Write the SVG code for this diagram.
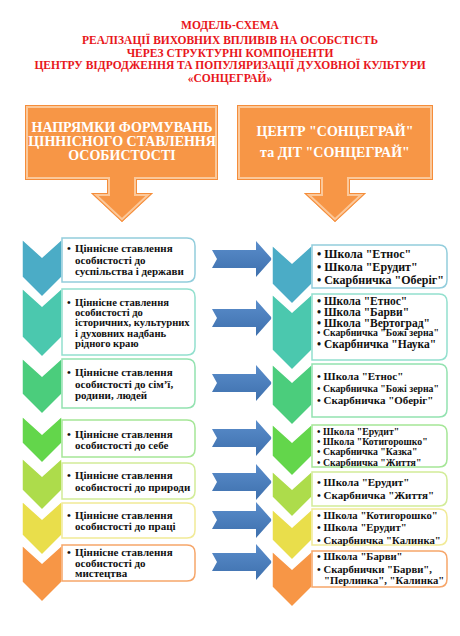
<svg xmlns="http://www.w3.org/2000/svg" width="460" height="636" viewBox="0 0 460 636">
<style>
.title{font-family:"Liberation Serif","Times New Roman",serif;font-weight:bold;font-size:11.5px;fill:#E8161B;text-anchor:middle}
.hdr{font-family:"Liberation Serif","Times New Roman",serif;font-weight:bold;font-size:14px;fill:#ffffff;text-anchor:middle}
.lt{font-family:"Liberation Serif","Times New Roman",serif;font-weight:bold;font-size:11px;fill:#111}
.lt2{font-family:"Liberation Serif","Times New Roman",serif;font-weight:bold;font-size:10.6px;fill:#111}
.rt{font-family:"Liberation Serif","Times New Roman",serif;font-weight:bold;font-size:12px;fill:#111}
.rm{font-family:"Liberation Serif","Times New Roman",serif;font-weight:bold;font-size:11.5px;fill:#111}
.rn{font-family:"Liberation Serif","Times New Roman",serif;font-weight:bold;font-size:11px;fill:#111}
.rq{font-family:"Liberation Serif","Times New Roman",serif;font-weight:bold;font-size:10.7px;fill:#111}
.rs{font-family:"Liberation Serif","Times New Roman",serif;font-weight:bold;font-size:9.8px;fill:#111}
.box{fill:#ffffff;stroke-width:1.5}
.chev{stroke:#ffffff;stroke-width:1.5}
.arrow{fill:url(#blue)}
</style>
<defs>
<linearGradient id="blue" x1="0" y1="0" x2="0" y2="1">
<stop offset="0" stop-color="#5A8DCB"/>
<stop offset="1" stop-color="#3E70AD"/>
</linearGradient>
<path id="hdrL" d="M25,105 H218 V180 H137 V193 H153 L122,222 L91,193 H107 V180 H25 Z"/>
<path id="hdrR" d="M237,105 H433 V180 H350 V193 H366 L335,222 L304,193 H320 V180 H237 Z"/>
<clipPath id="cL"><use href="#hdrL"/></clipPath>
<clipPath id="cR"><use href="#hdrR"/></clipPath>
</defs>

<g id="title">
<text class="title" x="230" y="29">МОДЕЛЬ-СХЕМА</text>
<text class="title" x="230" y="44">РЕАЛІЗАЦІЇ ВИХОВНИХ ВПЛИВІВ НА ОСОБСТІСТЬ</text>
<text class="title" x="230" y="56.5">ЧЕРЕЗ СТРУКТУРНІ КОМПОНЕНТИ</text>
<text class="title" x="230" y="69">ЦЕНТРУ ВІДРОДЖЕННЯ ТА ПОПУЛЯРИЗАЦІЇ ДУХОВНОЇ КУЛЬТУРИ</text>
<text class="title" x="230" y="81.5">«СОНЦЕГРАЙ»</text>
</g>

<g id="header-left">
<use href="#hdrL" fill="#F79646"/>
<use href="#hdrL" fill="none" stroke="#FBC89A" stroke-width="6" clip-path="url(#cL)"/>
<use href="#hdrL" fill="none" stroke="#F58D3A" stroke-width="2" clip-path="url(#cL)"/>
<text class="hdr" x="122" y="132">НАПРЯМКИ ФОРМУВАНЬ</text>
<text class="hdr" x="122" y="146">ЦІННІСНОГО СТАВЛЕННЯ</text>
<text class="hdr" x="122" y="160">ОСОБИСТОСТІ</text>
</g>

<g id="header-right">
<use href="#hdrR" fill="#F79646"/>
<use href="#hdrR" fill="none" stroke="#FBC89A" stroke-width="6" clip-path="url(#cR)"/>
<use href="#hdrR" fill="none" stroke="#F58D3A" stroke-width="2" clip-path="url(#cR)"/>
<text class="hdr" x="335" y="136">ЦЕНТР "СОНЦЕГРАЙ"</text>
<text class="hdr" x="335" y="157">та ДІТ "СОНЦЕГРАЙ"</text>
</g>

<g id="left-chevrons">
<path class="chev" fill="#4BACC6" d="M22,239 L42,257 L62,239 V277 L42,297 L22,277 Z"/>
<path class="chev" fill="#4BC8AE" d="M22,288 L42,306 L62,288 V337 L42,357 L22,337 Z"/>
<path class="chev" fill="#4BCD7C" d="M22,358 L42,376 L62,358 V394 L42,414 L22,394 Z"/>
<path class="chev" fill="#63D64B" d="M22,416 L42,434 L62,416 V443 L42,463 L22,443 Z"/>
<path class="chev" fill="#ADDC4B" d="M22,458 L42,476 L62,458 V490 L42,510 L22,490 Z"/>
<path class="chev" fill="#E9DE4B" d="M22,501 L42,519 L62,501 V535 L42,555 L22,535 Z"/>
<path class="chev" fill="#F79646" d="M22,545 L42,563 L62,545 V582 L42,602 L22,582 Z"/>
</g>

<g id="left-items">
<g id="l1">
<path class="box" stroke="#92CDDC" d="M62,238 H187 Q195,238 195,246 V274 Q195,282 187,282 H62 Z"/>
<text class="lt" x="67" y="252">•</text>
<text class="lt" x="75" y="252">Ціннісне ставлення</text>
<text class="lt" x="75" y="264">особистості до</text>
<text class="lt" x="75" y="275">суспільства і держави</text>
</g>
<g id="l2">
<path class="box" stroke="#93E0CE" d="M62,289 H187 Q195,289 195,297 V347 Q195,355 187,355 H62 Z"/>
<text class="lt2" x="67" y="306">•</text>
<text class="lt2" x="75" y="306">Ціннісне ставлення</text>
<text class="lt2" x="75" y="315.5">особистості до</text>
<text class="lt2" x="75" y="326">історичних, культурних</text>
<text class="lt2" x="75" y="336.5">і духовних надбань</text>
<text class="lt2" x="75" y="347">рідного краю</text>
</g>
<g id="l3">
<path class="box" stroke="#93E2B0" d="M62,359 H187 Q195,359 195,367 V400 Q195,408 187,408 H62 Z"/>
<text class="lt" x="67" y="375.5">•</text>
<text class="lt" x="75" y="375.5">Ціннісне ставлення</text>
<text class="lt" x="75" y="388">особистості до сім’ї,</text>
<text class="lt" x="75" y="399">родини, людей</text>
</g>
<g id="l4">
<path class="box" stroke="#A5E697" d="M62,420 H187 Q195,420 195,428 V449 Q195,457 187,457 H62 Z"/>
<text class="lt" x="67" y="438">•</text>
<text class="lt" x="75" y="438">Ціннісне ставлення</text>
<text class="lt" x="75" y="448.5">особистості до себе</text>
</g>
<g id="l5">
<path class="box" stroke="#D2EC98" d="M62,463 H187 Q195,463 195,471 V491 Q195,499 187,499 H62 Z"/>
<text class="lt" x="67" y="479">•</text>
<text class="lt" x="75" y="479">Ціннісне ставлення</text>
<text class="lt" x="75" y="490.5">особистості до природи</text>
</g>
<g id="l6">
<path class="box" stroke="#F1EA97" d="M62,503 H187 Q195,503 195,511 V530 Q195,538 187,538 H62 Z"/>
<text class="lt" x="67" y="519">•</text>
<text class="lt" x="75" y="519">Ціннісне ставлення</text>
<text class="lt" x="75" y="530">особистості до праці</text>
</g>
<g id="l7">
<path class="box" stroke="#F6A66A" d="M62,545 H187 Q195,545 195,553 V573 Q195,581 187,581 H62 Z"/>
<text class="lt" x="67" y="555.5">•</text>
<text class="lt" x="75" y="555.5">Ціннісне ставлення</text>
<text class="lt" x="75" y="566.5">особистості до</text>
<text class="lt" x="75" y="577">мистецтва</text>
</g>
</g>

<g id="connectors">
<path class="arrow" d="M212,250 H256 V241 L272,259 L256,277 V268 H212 L217,259 Z"/>
<path class="arrow" d="M212,309 H256 V300 L272,318 L256,336 V327 H212 L217,318 Z"/>
<path class="arrow" d="M212,374 H256 V365 L272,383 L256,401 V392 H212 L217,383 Z"/>
<path class="arrow" d="M212,429 H256 V420 L272,438 L256,456 V447 H212 L217,438 Z"/>
<path class="arrow" d="M212,473 H256 V464 L272,482 L256,500 V491 H212 L217,482 Z"/>
<path class="arrow" d="M212,511 H256 V502 L272,520 L256,538 V529 H212 L217,520 Z"/>
<path class="arrow" d="M212,553 H256 V544 L272,562 L256,580 V571 H212 L217,562 Z"/>
</g>

<g id="right-chevrons">
<path class="chev" fill="#4BACC6" d="M272,245 L292,263 L312,245 V284 L292,304 L272,284 Z"/>
<path class="chev" fill="#4BC8AE" d="M272,294 L292,312 L312,294 V350 L292,370 L272,350 Z"/>
<path class="chev" fill="#4BCD7C" d="M272,364 L292,382 L312,364 V405 L292,425 L272,405 Z"/>
<path class="chev" fill="#63D64B" d="M272,424 L292,442 L312,424 V456 L292,476 L272,456 Z"/>
<path class="chev" fill="#ADDC4B" d="M272,471 L292,489 L312,471 V497 L292,517 L272,497 Z"/>
<path class="chev" fill="#E9DE4B" d="M272,509 L292,527 L312,509 V540 L292,560 L272,540 Z"/>
<path class="chev" fill="#F79646" d="M272,551 L292,569 L312,551 V587 L292,607 L272,587 Z"/>
</g>

<g id="right-items">
<g id="r1">
<path class="box" stroke="#92CDDC" d="M312,245 H439 Q447,245 447,253 V280 Q447,288 439,288 H312 Z"/>
<text class="rt" x="317" y="258">• Школа "Етнос"</text>
<text class="rt" x="317" y="271">• Школа "Ерудит"</text>
<text class="rt" x="317" y="284">• Скарбничка "Оберіг"</text>
</g>
<g id="r2">
<path class="box" stroke="#93E0CE" d="M312,294 H439 Q447,294 447,302 V352 Q447,360 439,360 H312 Z"/>
<text class="rm" x="317" y="305">• Школа "Етнос"</text>
<text class="rm" x="317" y="315.5">• Школа "Барви"</text>
<text class="rm" x="317" y="326.5">• Школа "Вертоград"</text>
<text class="rs" x="317" y="336">• Скарбничка "Божі зерна"</text>
<text class="rm" x="317" y="348">• Скарбничка "Наука"</text>
</g>
<g id="r3">
<path class="box" stroke="#93E2B0" d="M312,364 H439 Q447,364 447,372 V409 Q447,417 439,417 H312 Z"/>
<text class="rn" x="317" y="380">• Школа "Етнос"</text>
<text class="rs" x="317" y="392">• Скарбничка "Божі зерна"</text>
<text class="rn" x="317" y="404">• Скарбничка "Оберіг"</text>
</g>
<g id="r4">
<path class="box" stroke="#A5E697" d="M312,425 H439 Q447,425 447,433 V459 Q447,467 439,467 H312 Z"/>
<text class="rs" x="317" y="434.5">• Школа "Ерудит"</text>
<text class="rs" x="317" y="444.5">• Школа "Котигорошко"</text>
<text class="rs" x="317" y="455">• Скарбничка "Казка"</text>
<text class="rs" x="317" y="465.5">• Скарбничка "Життя"</text>
</g>
<g id="r5">
<path class="box" stroke="#D2EC98" d="M312,472 H439 Q447,472 447,480 V498 Q447,506 439,506 H312 Z"/>
<text class="rn" x="317" y="486">• Школа "Ерудит"</text>
<text class="rn" x="317" y="499">• Скарбничка "Життя"</text>
</g>
<g id="r6">
<path class="box" stroke="#F1EA97" d="M312,509 H439 Q447,509 447,517 V537 Q447,545 439,545 H312 Z"/>
<text class="rq" x="317" y="519">• Школа "Котигорошко"</text>
<text class="rq" x="317" y="531">• Школа "Ерудит"</text>
<text class="rq" x="317" y="543.5">• Скарбничка "Калинка"</text>
</g>
<g id="r7">
<path class="box" stroke="#F6A66A" d="M312,551 H439 Q447,551 447,559 V579 Q447,587 439,587 H312 Z"/>
<text class="rq" x="317" y="560">• Школа "Барви"</text>
<text class="rq" x="317" y="572.5">• Скарбнички "Барви",</text>
<text class="rq" x="324" y="583.5">"Перлинка", "Калинка"</text>
</g>
</g>
</svg>
